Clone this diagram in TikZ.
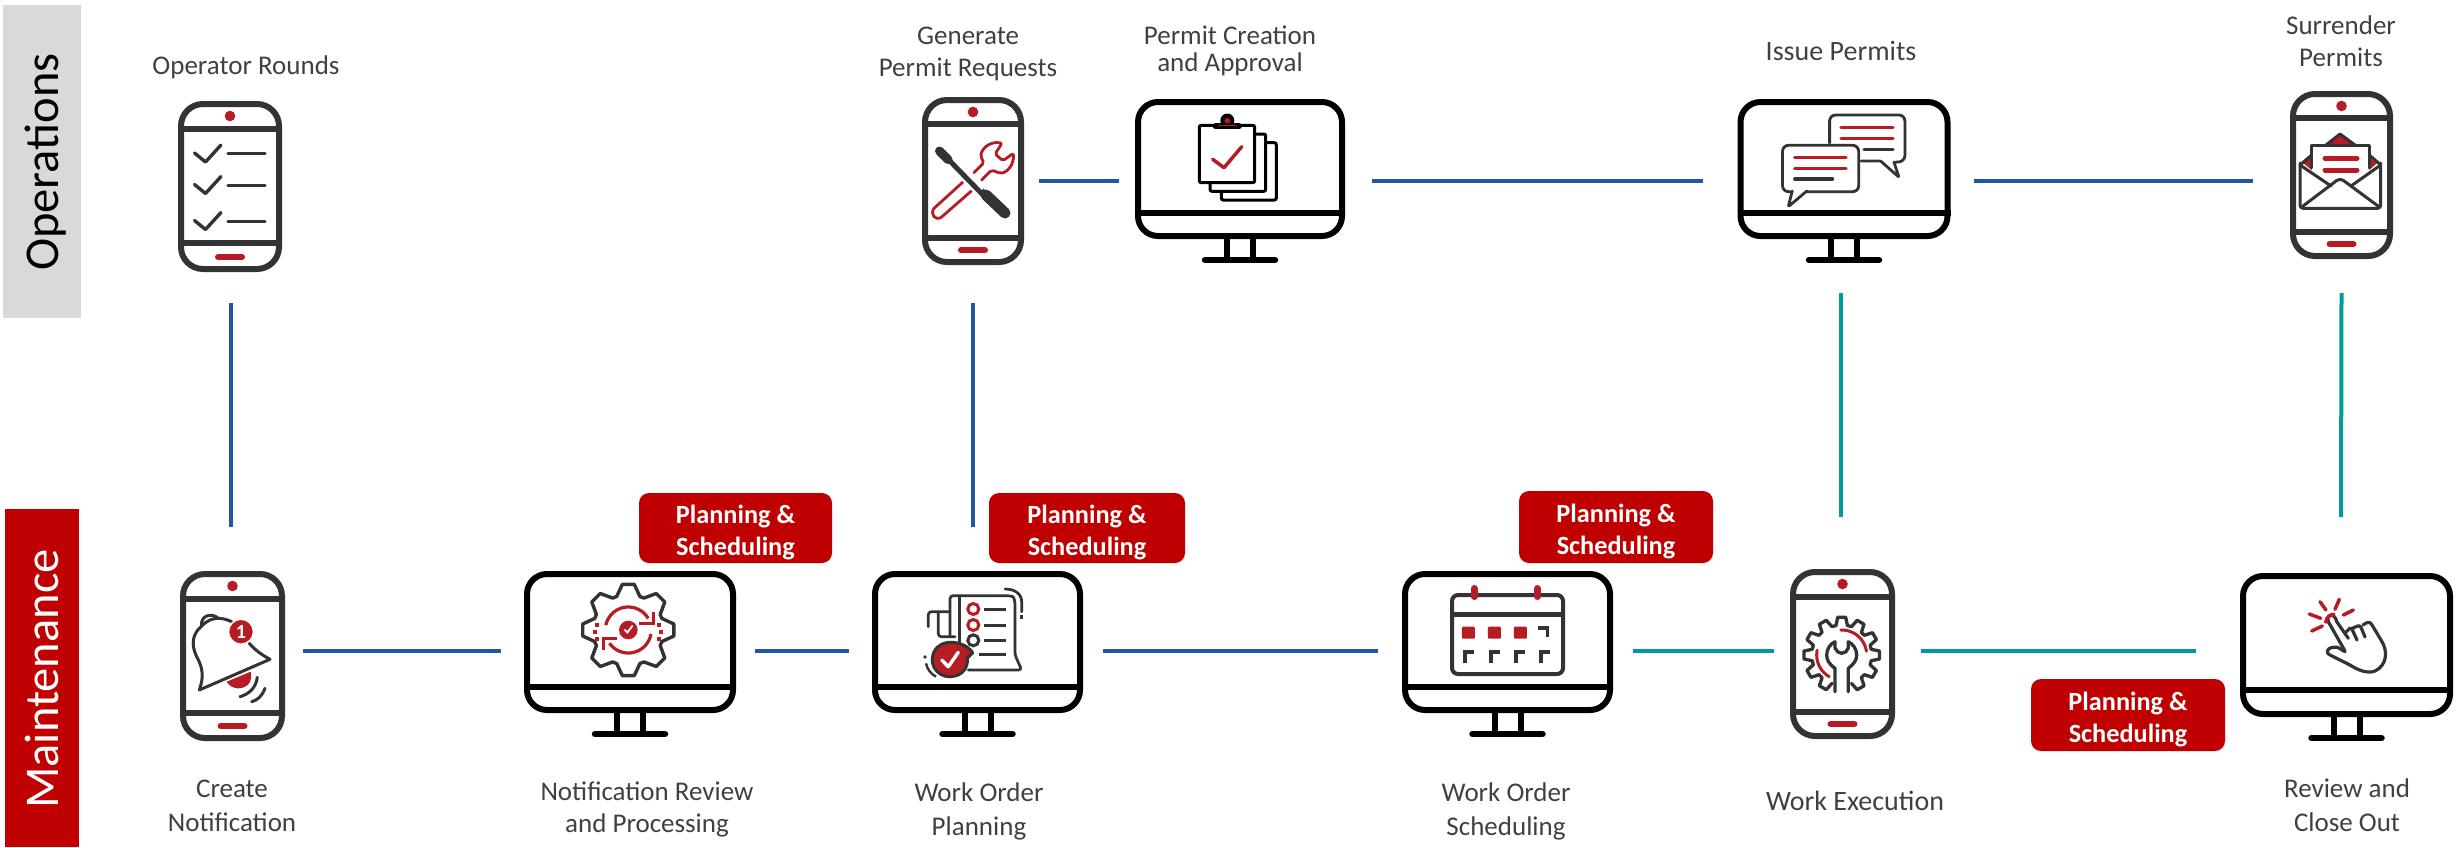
\documentclass[tikz,border=0pt]{standalone}
\usepackage{fontspec}
\setmainfont{Carlito}
\definecolor{flowblue}{HTML}{2255A4}
\definecolor{flowteal}{HTML}{009B9E}
\definecolor{darkline}{HTML}{333333}
\definecolor{iconred}{HTML}{B71C25}
\definecolor{bandred}{HTML}{C00000}
\definecolor{bandgrey}{HTML}{D9D9D9}
\definecolor{labeltext}{HTML}{404040}
\tikzset{
  phonebox/.style={draw=darkline,line width=6pt,rounded corners=22pt,rectangle,inner sep=0pt,fill=white},
  monitorbox/.style={draw=black,line width=6pt,rounded corners=20pt,rectangle,inner sep=0pt,fill=white},
  bluelink/.style={draw=flowblue,line width=4pt},
  teallink/.style={draw=flowteal,line width=4pt},
  lab/.style={inner sep=0pt,align=center,text=labeltext,anchor=base,font=\fontsize{27}{32}\selectfont},
  lablow/.style={lab,font=\fontsize{27}{27.4}\selectfont},
  labwide/.style={lab,font=\fontsize{27}{34}\selectfont},
  labone/.style={lab,font=\fontsize{28}{32}\selectfont},
  badge/.style={rectangle,fill=bandred,rounded corners=10pt,inner sep=0pt,align=center,text=white,font=\fontsize{26.3}{32}\selectfont\bfseries},
  bandtext/.style={rotate=90,anchor=base,inner sep=0pt,font=\fontsize{48.5}{50}\selectfont},
  dk/.style={draw=darkline,line width=3.2pt,line cap=round,line join=round},
  rd/.style={draw=iconred,line width=3.2pt,line cap=round,line join=round},
}
\newcommand\PhoneIcon[7]{% name, cx, top, bottom, div1, div2, width
  \pgfmathsetmacro\pcy{(#3+#4)/2}
  \pgfmathsetmacro\ph{#4-#3-6}
  \pgfmathsetmacro\pw{#7-6}
  \pgfmathsetmacro\pdot{#3+15}
  \pgfmathsetmacro\ppill{#4-15}
  \node[phonebox,minimum width=\pw pt,minimum height=\ph pt] (#1) at (#2,\pcy) {};
  \draw[darkline,line width=5.5pt] (#1.west |- #2,#5) -- (#1.east |- #2,#5);
  \draw[darkline,line width=5.5pt] (#1.west |- #2,#6) -- (#1.east |- #2,#6);
  \fill[iconred] (#2,\pdot) circle[radius=5.3pt];
  \draw[iconred,line width=6pt,line cap=round] (#2-12,\ppill) -- (#2+12,\ppill);
}
\newcommand\MonitorIcon[7]{% name, cx, top, bottom, div, width, basey
  \pgfmathsetmacro\mcy{(#3+#4)/2}
  \pgfmathsetmacro\mh{#4-#3-6}
  \pgfmathsetmacro\mw{#6-6}
  \draw[black,line width=6pt] (#2-13,#4) -- (#2-13,#7);
  \draw[black,line width=6pt] (#2+13,#4) -- (#2+13,#7);
  \draw[black,line width=6.5pt,line cap=round] (#2-35,#7) -- (#2+35,#7);
  \node[monitorbox,minimum width=\mw pt,minimum height=\mh pt] (#1) at (#2,\mcy) {};
  \draw[black,line width=6pt] (#1.west |- #2,#5) -- (#1.east |- #2,#5);
}
\newcommand\BadgeText{\rule{0pt}{27pt}Planning \&\\Scheduling}
\begin{document}
\begin{tikzpicture}[x=1pt,y=-1pt]
\useasboundingbox (0,0) rectangle (2461,847);
% bands
\node[rectangle,fill=bandgrey,minimum width=78pt,minimum height=313pt,inner sep=0pt] (opband) at (42,161.5) {};
\node[rectangle,fill=bandred,minimum width=74pt,minimum height=338pt,inner sep=0pt] (mtband) at (42,678) {};
\node[bandtext,text=black] (optext) at (58.6,162) {Operations};
\node[bandtext,text=white] (mttext) at (58.6,679) {Maintenance};

% devices
\PhoneIcon{rounds}{230}{101}{272}{129}{243}{104}
\PhoneIcon{genperm}{973}{97}{265}{124}{238}{102}
\MonitorIcon{permcreate}{1240}{99}{239}{213}{210}{260}
\MonitorIcon{issue}{1844}{99}{239}{213}{213}{260}
\PhoneIcon{surrender}{2341.5}{91}{259}{118}{232}{103}
\PhoneIcon{create}{232.5}{571}{741}{599}{713}{105}
\MonitorIcon{notifrev}{630}{571}{713}{687}{212}{734}
\MonitorIcon{woplan}{977.5}{571}{713}{687}{211}{734}
\MonitorIcon{wosched}{1507.5}{571}{713}{687}{211}{734}
\PhoneIcon{execute}{1842.5}{569}{739}{597}{712}{105}
\MonitorIcon{review}{2346.5}{573}{717}{690}{213}{738}

% connectors
\draw[bluelink] ([xshift=15pt]genperm.east) -- ([xshift=-16pt,yshift=-12pt]permcreate.west);
\draw[bluelink] ([xshift=27pt,yshift=-12pt]permcreate.east) -- ([xshift=-35pt,yshift=-12pt]issue.west);
\draw[bluelink] ([xshift=23pt,yshift=-12pt]issue.east) -- ([xshift=-37pt,yshift=-6pt]surrender.west);
\draw[bluelink] ([xshift=1pt,yshift=-31pt]rounds.south) -- ([xshift=-1.5pt,yshift=44pt]create.north);
\draw[bluelink] ([yshift=-38pt]genperm.south) -- ([xshift=-4.5pt,yshift=44pt]woplan.north);
\draw[teallink] ([xshift=-3pt,yshift=-54pt]issue.south) -- ([xshift=-1.5pt,yshift=52pt]execute.north);
\draw[teallink] ([yshift=-34pt]surrender.south) -- ([xshift=-5.5pt,yshift=56pt]review.north);
\draw[bluelink] ([xshift=18pt,yshift=5pt]create.east) -- ([xshift=-23pt,yshift=-9pt]notifrev.west);
\draw[bluelink] ([xshift=19pt,yshift=-9pt]notifrev.east) -- ([xshift=-23pt,yshift=-9pt]woplan.west);
\draw[bluelink] ([xshift=20pt,yshift=-9pt]woplan.east) -- ([xshift=-24pt,yshift=-9pt]wosched.west);
\draw[teallink] ([xshift=20pt,yshift=-9pt]wosched.east) -- ([xshift=-16pt,yshift=3pt]execute.west);
\draw[teallink] ([xshift=26pt,yshift=3pt]execute.east) -- ([xshift=-44pt,yshift=-6pt]review.west);

% badges
\node[badge,minimum width=193pt,minimum height=70pt] (bdg1) at (735.5,528) {\BadgeText};
\node[badge,minimum width=196pt,minimum height=70pt] (bdg2) at (1087,528) {\BadgeText};
\node[badge,minimum width=194pt,minimum height=72pt] (bdg3) at (1616,527) {\BadgeText};
\node[badge,minimum width=194pt,minimum height=72pt] (bdg4) at (2128,715) {\BadgeText};

% labels
\node[lab] (lrounds) at (246,74) {Operator Rounds};
\node[lab] (lgen) at (968,76) {Generate\\Permit Requests};
\node[lablow] (lperm) at (1230,71.7) {Permit Creation\\and Approval};
\node[labone] (lissue) at (1841,60) {Issue Permits};
\node[lab] (lsurr) at (2341,66) {Surrender\\Permits};
\node[labwide] (lcreate) at (232,831.7) {Create\\Notification};
\node[lab] (lnotif) at (647,832.7) {Notification Review\\and Processing};
\node[labwide] (lplan) at (979,835.7) {Work Order\\Planning};
\node[labwide] (lsched) at (1506,835.7) {Work Order\\Scheduling};
\node[labone] (lexec) at (1855,810.7) {Work Execution};
\node[labwide] (lrev) at (2347,831.7) {Review and\\Close Out};

% === checklist
\foreach \dy in {0,31.5,67.5}{
  \draw[dk,line width=3.4pt] (194.5,153+\dy) -- (205.5,162+\dy) -- (221,145+\dy);
  \draw[dk,line width=3.4pt] (228,153.7+\dy) -- (265,153.7+\dy);
}

% === wrench + screwdriver
\draw[rd,line width=2.8pt,rounded corners=2pt] (981.7,180) -- (991.7,170) -- (1000,173.3) .. controls (1008,172) and (1014,164) .. (1013.3,153.3) -- (1003,160.7) -- (995,154) -- (1002,143.3) .. controls (992,141) and (982,147) .. (980.7,156.7) -- (984,162.7) -- (974,172.7);
\draw[rd,line width=2.8pt] (963.3,181.7) -- (934,208.3) .. controls (930,214) and (935,221) .. (941,217.5) -- (971.7,190.7);
\draw[white,line width=10pt] (939,150) -- (985,197);
\draw[darkline,line width=5pt] (945,156) -- (983,195);
\draw[darkline,line width=9pt,line cap=round] (939.5,151) -- (948,159.5);
\draw[darkline,line width=7pt] (981,191) -- (988,198);
\draw[darkline,line width=11pt,line cap=round] (986,195) -- (1005,213);

% === permit pages
\draw[black,line width=3pt,rounded corners=2pt] (1221.3,191) -- (1221.3,200) -- (1276.3,200) -- (1276.3,142.7) -- (1265.7,142.7);
\draw[black,line width=3pt,rounded corners=2pt] (1210,182.7) -- (1210,191.3) -- (1265.7,191.3) -- (1265.7,134) -- (1254.7,134);
\draw[black,line width=3pt,rounded corners=2pt] (1213,125.3) -- (1199.3,125.3) -- (1199.3,182.7) -- (1254.7,182.7) -- (1254.7,125.3) -- (1241,125.3);
\fill[black] (1227.3,120.5) circle[radius=7pt];
\fill[iconred] (1227.3,121) circle[radius=3pt];
\draw[black,line width=6pt,line cap=round] (1215.5,126) -- (1239,126);
\draw[iconred,line width=1.5pt] (1218,125.6) -- (1237,125.6);
\draw[rd,line width=3.5pt] (1212.7,159.3) -- (1224,167.7) -- (1241.7,146.7);

% === chat bubbles
\draw[dk,line width=2.8pt,rounded corners=6pt] (1829.6,143) -- (1829.6,115) -- (1904.9,115) -- (1904.9,161.5) -- (1894,162.3);
\draw[dk,line width=2.8pt,rounded corners=1pt] (1894,162.3) -- (1899,177.3) -- (1880.6,161) -- (1861,161);
\draw[rd] (1841,127.7) -- (1893,127.7);
\draw[rd] (1841,138.3) -- (1893,138.3);
\draw[dk] (1864,149.3) -- (1893,149.3);
\draw[dk,line width=2.8pt,fill=white,rounded corners=6pt] (1792.2,191.7) -- (1782.5,191.7) -- (1782.5,145.3) -- (1858.7,145.3) -- (1858.7,191.7) -- (1806.8,191.7);
\draw[dk,line width=2.8pt,rounded corners=1pt] (1792.2,191) -- (1788.3,206.7) -- (1806.8,191);
\draw[rd] (1794.7,157.7) -- (1846,157.7);
\draw[rd] (1794.7,168.3) -- (1846,168.3);
\draw[dk] (1794.7,179) -- (1832.5,179);

% === envelope
\fill[iconred] (2326,145) -- (2340,135) -- (2355,145) -- cycle;
\fill[iconred] (2303.3,163.3) -- (2311.7,156.7) -- (2311.7,170) -- cycle;
\fill[iconred] (2376.7,163.3) -- (2369.3,156.7) -- (2369.3,170) -- cycle;
\draw[dk,line width=3pt] (2300,165) -- (2311.7,155);
\draw[dk,line width=3pt] (2380.7,165) -- (2369.3,155);
\draw[dk,line width=3pt] (2326,145) -- (2340,134) -- (2355,145);
\draw[dk,line width=3pt,rounded corners=3pt] (2300,163) -- (2300,208.3) -- (2380.7,208.3) -- (2380.7,163);
\draw[dk,line width=3pt] (2311.7,168) -- (2311.7,145) -- (2369.3,145) -- (2369.3,168);
\draw[dk,line width=3pt] (2300,165) -- (2331,186);
\draw[dk,line width=3pt] (2380.7,165) -- (2351,186);
\draw[dk,line width=3pt,rounded corners=4pt] (2303,206) -- (2340,178) -- (2378,206);
\draw[iconred,line width=5pt,line cap=round] (2325,158.3) -- (2357,158.3);
\draw[iconred,line width=5pt,line cap=round] (2325,170) -- (2357,170);

% === bell
\fill[iconred] (226.7,681.7) .. controls (231,690) and (245,691) .. (250,682) .. controls (252,677) and (251,674) .. (250.7,671.7) -- cycle;
\draw[dk,line width=3pt] (231.7,621.7) .. controls (224,618) and (212,615) .. (201.7,626) .. controls (192,634) and (191,645) .. (196.7,656.7) .. controls (203,668) and (204,677) .. (199.3,690) -- (270,659.3) .. controls (262,655) and (255,650) .. (249.3,643.3);
\draw[dk,line width=3pt] (201.7,626) .. controls (200,616) and (211,612) .. (218.3,618.3);
\fill[iconred,draw=white,line width=1.5pt] (241,631.7) circle[radius=12.5pt];
\node[inner sep=0pt,text=white,font=\fontsize{20}{22}\selectfont\bfseries] (bellone) at (241,632) {1};
\draw[dk,line width=3pt] (257.3,677.3) .. controls (256,688) and (249,694) .. (240,696.7);
\draw[dk,line width=3pt] (265,688.3) .. controls (262,696) and (258,700) .. (251.7,701.7);

% === process gear
\begin{scope}[shift={(628.3,630)}]
  \draw[dk,line width=3.4pt] (-19:35.5) \foreach \a in {0,45,...,315}{ -- (\a-19:35.5) -- (\a-7.5:46) -- (\a+7.5:46) -- (\a+19:35.5)} -- cycle;
  \draw[iconred,line width=3.2pt] plot[domain=192:330,samples=30] ({23*cos(\x)},{23*sin(\x)});
  \draw[iconred,line width=3.2pt] plot[domain=10:145,samples=30] ({23*cos(\x)},{23*sin(\x)});
  \draw[iconred,line width=3.2pt] (11,-6.5) -- (25,-6.5) -- (25,-18);
  \draw[iconred,line width=3.2pt] (-11,8.5) -- (-25,8.5) -- (-25,20);
  \fill[iconred] (0,0) circle[radius=9.3pt];
  \draw[white,line width=1.8pt,line cap=round] (-3.5,0) -- (-1,2.5) -- (4,-4);
  \foreach \px/\py in {-31.6/-5,-33.3/2.3,-31.6/9,30.6/-5,32.6/2.3,30.6/9}{
    \fill[iconred] (\px-2,\py-2) rectangle (\px+2,\py+2);
  }
\end{scope}

% === work order document
\draw[dk,line width=2.7pt,rounded corners=3pt] (950,636) -- (950,595.7) -- (1010,595.7) .. controls (1014,597) and (1015,602) .. (1015,608) -- (1015,655) -- (1021.7,670) -- (968.3,670);
\draw[dk,line width=2.7pt] (959.3,597) -- (959.3,643);
\draw[dk,line width=2.7pt,rounded corners=3pt] (928.3,626.7) -- (928.3,611.7) -- (950,611.7);
\draw[dk,line width=2.7pt,rounded corners=3pt] (938.3,611.7) -- (938.3,636.7) -- (955,636.7);
\draw[dk,line width=2.7pt] (1005,589) .. controls (1015,589) and (1021.7,594) .. (1021.7,602) -- (1021.7,611.7);
\fill[darkline] (1019.5,615) rectangle (1023,618.5);
\draw[iconred,line width=3pt] (973.3,609) circle[radius=5.5pt];
\draw[iconred,line width=3pt] (973.3,625) circle[radius=5.5pt];
\draw[darkline,line width=3pt] (973.3,640.3) circle[radius=5.5pt];
\draw[darkline,line width=3pt] (984,609) -- (1005.7,609);
\draw[darkline,line width=3pt] (984,625) -- (1005.7,625);
\draw[darkline,line width=3pt] (984,640.3) -- (1005.7,640.3);
\draw[darkline,line width=3pt] (979,654.3) -- (1005.7,654.3);
\fill[iconred,draw=darkline,line width=3pt,line join=round] (972.7,652.7) .. controls (964,640) and (940,638) .. (934,652) .. controls (927,668) and (942,680) .. (955,676) .. controls (964,674) and (968,666) .. (967.5,658) -- cycle;
\draw[white,line width=3.4pt,line cap=round,line join=round] (941.7,660) -- (948.3,666.7) -- (958.3,652.3);
\fill[darkline] (925,657) circle[radius=1.8pt];
\draw[dk,line width=2.4pt,line cap=butt] (926,663.3) .. controls (927,669) and (931,674) .. (936,676.7);

% === calendar
\draw[darkline,line width=4pt,rounded corners=6pt] (1452,595) rectangle (1563,674);
\draw[darkline,line width=5pt] (1452,614.3) -- (1563,614.3);
\draw[iconred,line width=7pt,line cap=round] (1474,588.5) -- (1474,596.5);
\draw[iconred,line width=7pt,line cap=round] (1537.6,588.5) -- (1537.6,596.5);
\foreach \cxx in {1468.3,1494.3,1520.3}{
  \fill[iconred,rounded corners=1pt] (\cxx-6.5,626.7) rectangle (\cxx+6.5,638.7);
}
\draw[darkline,line width=3.6pt] (1547.5,637) -- (1547.5,628) -- (1538,628);
\foreach \cxx in {1468,1494,1519,1544}{
  \draw[darkline,line width=3.6pt] (\cxx-3,663) -- (\cxx-3,652) -- (\cxx+6,652);
}

% === wrench gear
\begin{scope}[shift={(1841.7,655)}]
  \draw[dk,line width=3.3pt] (120-11:30) \foreach \a in {120,150,...,420}{ -- (\a-11:30) -- (\a-6:38) -- (\a+6:38) -- (\a+11:30)};
  \draw[iconred,line width=3pt,line cap=round] plot[domain=268:351,samples=20] ({25*cos(\x)},{25*sin(\x)});
  \draw[iconred,line width=3pt,line cap=round] plot[domain=120:191,samples=20] ({25*cos(\x)},{25*sin(\x)});
\end{scope}
\draw[dk,line width=3.3pt] (1835,691.7) -- (1835,668.3) .. controls (1829,664) and (1826.7,660) .. (1826.7,655) .. controls (1826.7,649) and (1830,644) .. (1835,641.7) -- (1835,648) .. controls (1836,651) and (1839,653.3) .. (1841.7,653.3) .. controls (1845,653.3) and (1847.5,651) .. (1848.3,648) -- (1848.3,641.7) .. controls (1853,644) and (1856.7,649) .. (1856.7,655) .. controls (1856.7,660) and (1854,664) .. (1848.3,668.3) -- (1848.3,691.7);

% === hand
\draw[dk,line width=3.2pt,rounded corners=2.5pt] (2345,651.7) -- (2336.7,646.7) -- (2328.3,648.3) -- (2326.7,653.3) -- (2350,665);
\draw[dk,line width=3.2pt] (2345,651) -- (2328.3,621.7) .. controls (2326,613) and (2335,613) .. (2336.7,621.7) -- (2348.3,638.3);
\draw[dk,line width=3.2pt,rounded corners=2.5pt] (2346,632) -- (2351,627) -- (2357,640);
\draw[dk,line width=3.2pt,rounded corners=2.5pt] (2353,628) -- (2360,625) -- (2365,637);
\draw[dk,line width=3.2pt] (2363,625) .. controls (2367,622) and (2370,621) .. (2372,625) -- (2381,640) .. controls (2389,652) and (2386,666) .. (2375,671) .. controls (2367,674) and (2358,670) .. (2350,665);
\draw[rd,line width=3.5pt] (2320,601.7) -- (2326,610);
\draw[rd,line width=3.5pt] (2339.3,599.3) -- (2335,609.3);
\draw[rd,line width=3.5pt] (2353.3,610) -- (2343.3,615);
\draw[rd,line width=3.5pt] (2309.3,614) -- (2320.7,618.3);
\draw[rd,line width=3.5pt] (2311.7,631) -- (2322.3,626);
\draw[rd,line width=3.5pt,line cap=butt] (2325.5,623.3) .. controls (2326,617) and (2331,613) .. (2335,615);
\end{tikzpicture}
\end{document}
